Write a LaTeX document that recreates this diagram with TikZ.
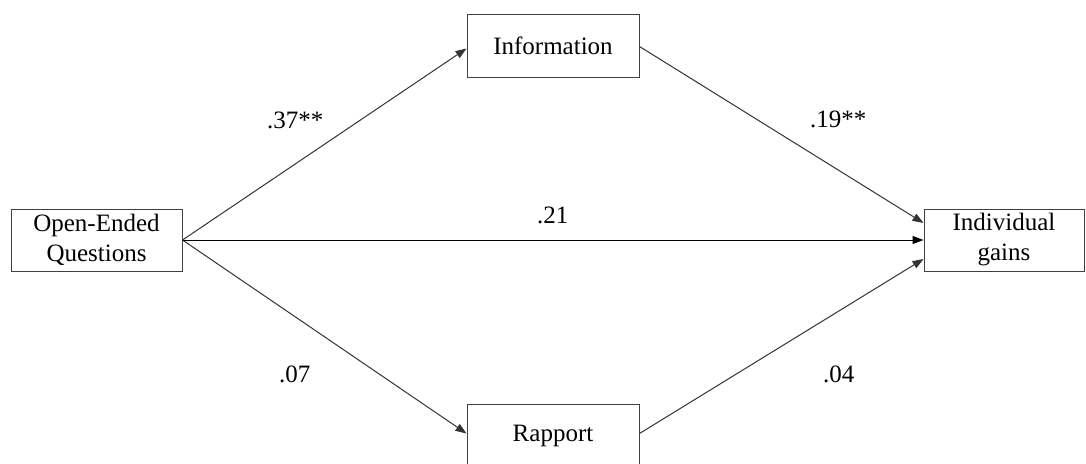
\documentclass[tikz,border=0pt]{standalone}
\usepackage{fontspec}
\setmainfont{Liberation Serif}
\usetikzlibrary{arrows.meta}
\begin{document}
\begin{tikzpicture}[x=1pt,y=-1pt,
  box/.style={draw=black!75,line width=1pt,inner sep=0pt,align=center,
    font=\fontsize{25}{30}\selectfont},
  lab/.style={inner sep=0pt,anchor=base west,font=\fontsize{25}{30}\selectfont},
  conn/.style={draw=black!80,line width=1pt,-{Triangle[length=11pt,width=8pt]}}]
\clip (0,0) rectangle (1086,463);
\node[box,minimum width=171pt,minimum height=62pt] (open) at (96.5,240) {Open-Ended\\Questions};
\node[box,minimum width=172pt,minimum height=63pt] (info) at (553,45.5) {Information};
\node[box,minimum width=172pt,minimum height=63pt] (rap) at (553,435.5) {Rapport};
\node[box,minimum width=160pt,minimum height=62pt] (ind) at (1004,240) {Individual\\gains};
\draw[conn] (open.east) -- ([yshift=-3pt]info.west);
\draw[conn] (open.east) -- ([yshift=2pt]rap.west);
\draw[conn,draw=black] (open.east) -- (ind.west);
\draw[conn] ([yshift=-1pt]info.east) -- ([yshift=17pt]ind.west);
\draw[conn] ([yshift=2pt]rap.east) -- ([yshift=-19pt]ind.west);
\node[lab] (l1) at (267,128) {.37**};
\node[lab] (l2) at (810,127) {.19**};
\node[lab] (l3) at (537,223) {.21};
\node[lab] (l4) at (279,382) {.07};
\node[lab] (l5) at (823,382) {.04};
\end{tikzpicture}
\end{document}
